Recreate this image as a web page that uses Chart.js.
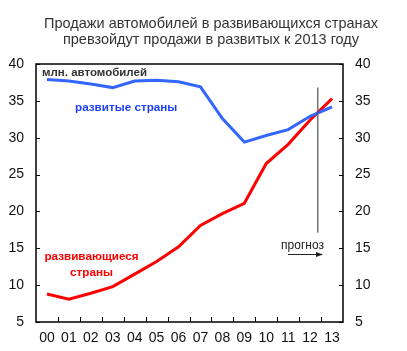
<!DOCTYPE html>
<html>
<head>
<meta charset="utf-8">
<script src="https://cdn.jsdelivr.net/npm/chart.js@4.4.0/dist/chart.umd.min.js"></script>
<style>
  html, body { margin: 0; padding: 0; background: #fff; }
  #wrap { width: 407px; height: 351px; }
</style>
</head>
<body>
<div id="wrap"><canvas id="myChart" width="407" height="351"></canvas></div>
<script>
  const years = ['00', '01', '02', '03', '04', '05', '06', '07', '08', '09', '10', '11', '12', '13'];
  const developed = [37.9, 37.7, 37.3, 36.8, 37.7, 37.8, 37.6, 36.9, 32.6, 29.4, 30.3, 31.1, 32.9, 34.2];
  const emerging = [8.8, 8.1, 8.9, 9.8, 11.5, 13.2, 15.2, 18.1, 19.7, 21.1, 26.5, 29.1, 32.4, 35.3];
  const yTicks = [5, 10, 15, 20, 25, 30, 35, 40];

  const titleLines = ['Продажи автомобилей в развивающихся странах', 'превзойдут продажи в развитых к 2013 году'];

  const font = '"Liberation Sans", Arial, sans-serif';

  // frame, inward ticks, annotations
  const decor = {
    id: 'decor',
    afterDatasetsDraw(chart) {
      const ctx = chart.ctx;
      const a = chart.chartArea;
      const x = chart.scales.x;
      const y = chart.scales.y;
      ctx.save();

      // title
      ctx.fillStyle = '#333';
      ctx.font = '14.5px ' + font;
      ctx.textAlign = 'center';
      ctx.textBaseline = 'alphabetic';
      ctx.fillText(titleLines[0], 211, 28);
      ctx.fillText(titleLines[1], 211, 43.5);

      // box
      ctx.strokeStyle = '#000';
      ctx.lineWidth = 1.5;
      ctx.strokeRect(a.left, a.top, a.right - a.left, a.bottom - a.top);

      // inward ticks
      ctx.lineWidth = 1;
      yTicks.forEach(v => {
        const py = Math.round(y.getPixelForValue(v)) + 0.5;
        ctx.beginPath();
        ctx.moveTo(a.left, py); ctx.lineTo(a.left + 4, py);
        ctx.moveTo(a.right, py); ctx.lineTo(a.right - 4, py);
        ctx.stroke();
      });
      for (let i = 0; i < years.length - 1; i++) {
        const px = Math.round((x.getPixelForValue(i) + x.getPixelForValue(i + 1)) / 2) + 0.5;
        ctx.beginPath();
        ctx.moveTo(px, a.bottom); ctx.lineTo(px, a.bottom - 5);
        ctx.stroke();
      }

      // forecast line
      const fx = x.getPixelForValue(12) + 0.35 * (x.getPixelForValue(13) - x.getPixelForValue(12));
      ctx.strokeStyle = '#555';
      ctx.lineWidth = 1.2;
      ctx.beginPath();
      ctx.moveTo(fx, y.getPixelForValue(36.8));
      ctx.lineTo(fx, y.getPixelForValue(17.1));
      ctx.stroke();

      // прогноз + arrow
      ctx.fillStyle = '#222';
      ctx.font = '12px ' + font;
      ctx.textAlign = 'center';
      ctx.fillText('прогноз', 302.5, 249);
      ctx.strokeStyle = '#222';
      ctx.lineWidth = 1;
      ctx.beginPath();
      ctx.moveTo(288, 254.5); ctx.lineTo(318, 254.5);
      ctx.stroke();
      ctx.beginPath();
      ctx.moveTo(323, 254.5); ctx.lineTo(316, 252); ctx.lineTo(316, 257); ctx.closePath();
      ctx.fill();

      // labels
      ctx.textBaseline = 'middle';
      ctx.textAlign = 'left';
      ctx.fillStyle = '#333';
      ctx.font = 'bold 11.5px ' + font;
      ctx.fillText('млн. автомобилей', 42, 73);
      ctx.fillStyle = '#1f3fff';
      ctx.font = 'bold 11.7px ' + font;
      ctx.fillText('развитые страны', 75, 108);
      ctx.fillStyle = '#ff0000';
      ctx.textAlign = 'center';
      ctx.fillText('развивающиеся', 91.5, 257);
      ctx.fillText('страны', 91.5, 273);

      ctx.restore();
    }
  };

  const tickFont = { family: font, size: 14 };

  new Chart('myChart', {
    type: 'line',
    data: {
      labels: years,
      datasets: [{
        label: 'развитые страны',
        data: developed,
        borderColor: '#3366ff',
        borderWidth: 3,
        pointRadius: 0,
        tension: 0,
        yAxisID: 'y'
      }, {
        label: 'развивающиеся страны',
        data: emerging,
        borderColor: '#ff0000',
        borderWidth: 3,
        pointRadius: 0,
        tension: 0,
        yAxisID: 'y'
      }]
    },
    options: {
      responsive: false,
      animation: false,
      layout: { padding: { top: 64, right: 0, left: 0, bottom: 0 } },
      plugins: { legend: { display: false }, title: { display: false }, tooltip: { enabled: false } },
      scales: {
        x: {
          offset: true,
          grid: { display: false },
          border: { display: false },
          ticks: { color: '#111', font: tickFont, padding: 0, maxRotation: 0, autoSkip: false },
          afterFit(s) { s.height = 29; }
        },
        y: {
          min: 5, max: 40,
          position: 'left',
          grid: { display: false },
          border: { display: false },
          ticks: { stepSize: 5, color: '#111', font: tickFont, padding: 4 },
          afterFit(s) { s.width = 36; }
        },
        y2: {
          min: 5, max: 40,
          position: 'right',
          grid: { display: false },
          border: { display: false },
          ticks: { stepSize: 5, color: '#111', font: tickFont, padding: 4 },
          afterFit(s) { s.width = 64; }
        }
      }
    },
    plugins: [decor]
  });
</script>
</body>
</html>
